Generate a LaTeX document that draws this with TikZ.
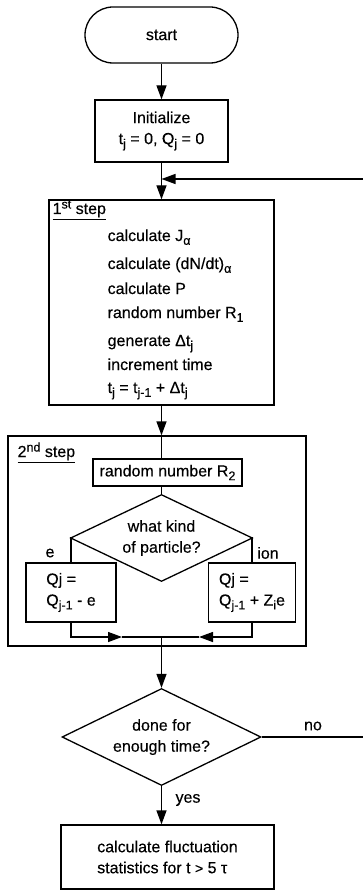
\documentclass[tikz,border=0pt]{standalone}
\usepackage{fontspec}
\setmainfont[FakeBold=0.3]{Liberation Sans}
\usetikzlibrary{arrows.meta,shapes.geometric}
\newcommand{\sbs}[1]{\raisebox{-0.45ex}{\fontsize{12.5}{12}\selectfont #1}}
\newcommand{\sps}[1]{\raisebox{0.65ex}{\fontsize{12.5}{12}\selectfont #1}}
\begin{document}
\begin{tikzpicture}[x=1pt,y=-1pt,
  line width=1.3pt,
  every node/.style={font=\fontsize{16}{21}\selectfont},
  box/.style={draw,line width=1.3pt,inner sep=0pt,align=center},
  dia/.style={draw,line width=1.3pt,diamond,inner sep=0pt,shape aspect=2.1,align=center},
  lbl/.style={inner sep=0pt,anchor=base west},
  arr/.style={-{Triangle[length=14pt,width=10pt]}}
]
\useasboundingbox (0,0) rectangle (363,890);

% nodes
\node[box,rounded corners=28pt,minimum width=153pt,minimum height=56pt] (start) at (161.5,35) {start};
\node[box,minimum width=133pt,minimum height=62pt] (init) at (161.5,131) {Initialize\\t\sbs{j} = 0, Q\sbs{j} = 0};
\node[box,minimum width=225pt,minimum height=205pt] (step1) at (161.5,302.5) {};
\node[lbl] (s1title) at (52,214) {\underline{1\sps{st} step}};
\node[lbl] (l1) at (107,241) {calculate J\sbs{α}};
\node[lbl] (l2) at (107,269) {calculate (dN/dt)\sbs{α}};
\node[lbl] (l3) at (107,294) {calculate P};
\node[lbl] (l4) at (107,318) {random number R\sbs{1}};
\node[lbl] (l5) at (107,346) {generate Δt\sbs{j}};
\node[lbl] (l6) at (107,370) {increment time};
\node[lbl] (l7) at (107,393) {t\sbs{j} = t\sbs{j-1} + Δt\sbs{j}};

\node[box,minimum width=298pt,minimum height=210pt] (step2) at (157,541) {};
\node[lbl] (s2title) at (17,457) {\underline{2\sps{nd} step}};
\node[box,minimum width=149pt,minimum height=27pt] (r2) at (167.5,472.5) {random number R\sbs{2}};
\node[dia,minimum width=182pt,minimum height=87pt] (kind) at (161.5,538) {what kind\\of particle?};
\node[box,minimum width=90pt,minimum height=59pt,align=left] (qe) at (71,592.5) {Qj =\\Q\sbs{j-1} - e};
\node[box,minimum width=87pt,minimum height=59pt,align=left] (qi) at (252,592.5) {Qj =\\Q\sbs{j-1} + Z\sbs{i}e};
\node[inner sep=0pt] (le) at (50,553) {e};
\node[inner sep=0pt] (lion) at (268,553) {ion};

\node[dia,minimum width=199pt,minimum height=97pt] (done) at (161.5,737) {done for\\enough time?};
\node[inner sep=0pt] (lno) at (313,726) {no};
\node[inner sep=0pt] (lyes) at (188,800) {yes};
\node[box,minimum width=213pt,minimum height=64pt,align=left] (final) at (167.5,857) {calculate fluctuation\\statistics for t {\fontsize{14}{21}\selectfont >} 5 τ};

% coordinates
\coordinate (fb) at (161.5,179);
\coordinate (loop) at (368,179);
\coordinate (join) at (161.5,637);
\coordinate (ml) at (122,637);
\coordinate (mr) at (199,637);

% connectors
\draw[arr] (start) -- (init);
\draw[arr] (init) -- (step1);
\draw[arr] (done.east) -| (loop) -- (fb);
\draw[arr] (step1.south) -- (step1.south |- step2.north);
\draw (step1.south |- step2.north) -- (step1.south |- r2.north);
\draw (step1.south |- r2.south) -- (kind.north);
\draw (kind.west) -| (qe.north);
\draw (kind.east) -| (qi.north);
\draw[arr] (qe.south) |- (ml);
\draw (ml) -- (join);
\draw[arr] (qi.south) |- (mr);
\draw (mr) -- (join);
\draw[arr] (join) -- (done.north);
\draw[arr] (done.south) -- (done.south |- final.north);
\end{tikzpicture}
\end{document}
